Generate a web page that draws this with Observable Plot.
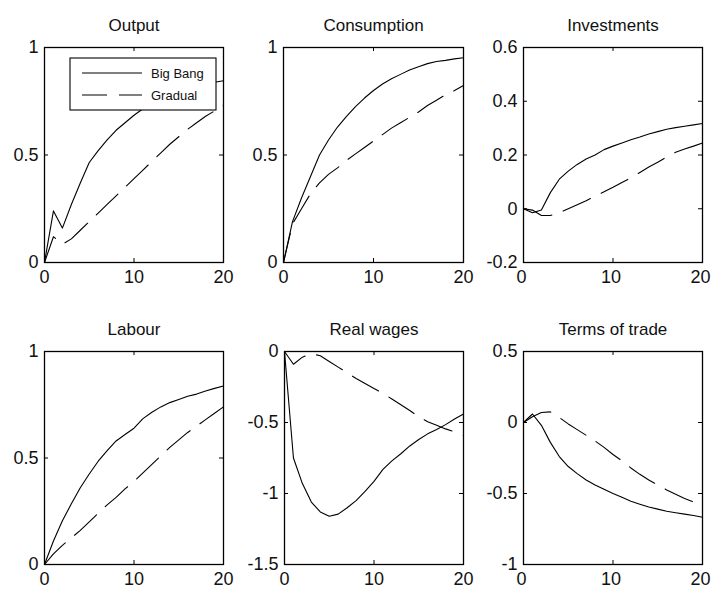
<!DOCTYPE html>
<html><head><meta charset="utf-8">
<script src="https://cdn.jsdelivr.net/npm/d3@7"></script>
<script src="https://cdn.jsdelivr.net/npm/@observablehq/plot@0.6"></script>
<style>
html,body{margin:0;padding:0;background:#fff;}
#chart{position:relative;width:711px;height:589px;overflow:hidden;background:#fff;}
#chart svg{position:absolute;}
</style></head><body><div id="chart"></div>
<script>
// ---- data ----
const periods = [0,1,2,3,4,5,6,7,8,9,10,11,12,13,14,15,16,17,18,19,20];
const seriesNames = ["Big Bang", "Gradual"];
const panelTitles = ["Output", "Consumption", "Investments", "Labour", "Real wages", "Terms of trade"];
const xTicks = [0, 10, 20];

const outputBigBang = [0,0.24,0.16,0.27,0.37,0.465,0.52,0.57,0.615,0.65,0.685,0.715,0.74,0.76,0.78,0.795,0.81,0.82,0.83,0.838,0.845];
const outputGradual = [0,0.12,0.085,0.11,0.15,0.19,0.23,0.27,0.31,0.35,0.39,0.43,0.47,0.51,0.55,0.585,0.62,0.65,0.68,0.705,0.73];
const consumptionBigBang = [0,0.19,0.30,0.40,0.50,0.57,0.63,0.68,0.725,0.765,0.80,0.83,0.855,0.875,0.895,0.91,0.925,0.935,0.94,0.947,0.952];
const consumptionGradual = [0,0.18,0.25,0.32,0.37,0.41,0.44,0.475,0.505,0.535,0.565,0.595,0.625,0.65,0.675,0.70,0.73,0.755,0.78,0.80,0.823];
const investmentsBigBang = [0,-0.015,-0.005,0.06,0.11,0.14,0.165,0.185,0.20,0.22,0.233,0.245,0.257,0.267,0.278,0.287,0.296,0.302,0.307,0.312,0.317];
const investmentsGradual = [0,-0.005,-0.025,-0.025,-0.015,0.0,0.015,0.03,0.047,0.063,0.08,0.098,0.115,0.135,0.155,0.173,0.193,0.21,0.222,0.233,0.245];
const labourBigBang = [0,0.11,0.205,0.285,0.36,0.425,0.485,0.535,0.58,0.61,0.64,0.685,0.715,0.74,0.76,0.775,0.79,0.80,0.815,0.827,0.838];
const labourGradual = [0,0.05,0.09,0.125,0.16,0.2,0.24,0.28,0.315,0.355,0.39,0.43,0.47,0.51,0.55,0.585,0.62,0.65,0.68,0.71,0.74];
const realWagesBigBang = [0,-0.75,-0.93,-1.06,-1.13,-1.16,-1.145,-1.1,-1.05,-0.985,-0.915,-0.83,-0.77,-0.72,-0.665,-0.62,-0.58,-0.55,-0.515,-0.475,-0.44];
const realWagesGradual = [0,-0.09,-0.04,-0.015,-0.03,-0.07,-0.11,-0.15,-0.19,-0.225,-0.26,-0.295,-0.335,-0.375,-0.415,-0.46,-0.495,-0.52,-0.545,-0.565,-0.59];
const totBigBang = [0,0.06,-0.02,-0.14,-0.24,-0.31,-0.36,-0.405,-0.44,-0.47,-0.5,-0.527,-0.555,-0.575,-0.595,-0.61,-0.625,-0.635,-0.645,-0.655,-0.667];
const totGradual = [0,0.04,0.07,0.075,0.035,-0.01,-0.05,-0.09,-0.13,-0.175,-0.225,-0.27,-0.32,-0.365,-0.405,-0.44,-0.475,-0.505,-0.535,-0.56,-0.585];

const yTicksUnit = [0, 0.5, 1];
const yTicksInvest = [-0.2, 0, 0.2, 0.4, 0.6];
const yTicksWages = [-1.5, -1, -0.5, 0];
const yTicksTot = [-1, -0.5, 0, 0.5];

// ---- layout ----
const FONT = "'Liberation Sans', Arial, sans-serif";
const INK = "#111";
const DASH = "30,12";

const panels = [
  {title: panelTitles[0], bb: outputBigBang, gr: outputGradual, domain: [0,1], ticks: yTicksUnit, left: 0, top: 0, w: 237, h: 300, ml: 44, mr: 14, mt: 47, mb: 38, xdx: 0, legend: true},
  {title: panelTitles[1], bb: consumptionBigBang, gr: consumptionGradual, domain: [0,1], ticks: yTicksUnit, left: 237, top: 0, w: 237, h: 300, ml: 46, mr: 11, mt: 47, mb: 38, xdx: 0},
  {title: panelTitles[2], bb: investmentsBigBang, gr: investmentsGradual, domain: [-0.2,0.6], ticks: yTicksInvest, left: 474, top: 0, w: 237, h: 300, ml: 49, mr: 9, mt: 47, mb: 38, xdx: -2},
  {title: panelTitles[3], bb: labourBigBang, gr: labourGradual, domain: [0,1], ticks: yTicksUnit, left: 0, top: 300, w: 237, h: 289, ml: 44, mr: 14, mt: 51, mb: 25, xdx: 0},
  {title: panelTitles[4], bb: realWagesBigBang, gr: realWagesGradual, domain: [-1.5,0], ticks: yTicksWages, left: 237, top: 300, w: 237, h: 289, ml: 47, mr: 11, mt: 51, mb: 25, xdx: 0},
  {title: panelTitles[5], bb: totBigBang, gr: totGradual, domain: [-1,0.5], ticks: yTicksTot, left: 474, top: 300, w: 237, h: 289, ml: 49, mr: 9, mt: 51, mb: 25, xdx: -2}
];

const chart = document.getElementById("chart");
const fmt = d => String(d);

for (const p of panels) {
  const fw = p.w - p.ml - p.mr, fh = p.h - p.mt - p.mb;
  const rows = (vals, name) => periods.map((t, i) => ({period: t, value: vals[i], series: name}));
  const tickLen = 4;
  const svg = Plot.plot({
    width: p.w, height: p.h,
    marginLeft: p.ml, marginRight: p.mr, marginTop: p.mt, marginBottom: p.mb,
    style: {fontFamily: FONT, fontSize: "18px", color: INK, background: "transparent", overflow: "visible"},
    x: {domain: [0, 20]},
    y: {domain: p.domain},
    marks: [
      Plot.line(rows(p.bb, seriesNames[0]), {x: "period", y: "value", stroke: "black", strokeWidth: 1.1}),
      Plot.line(rows(p.gr, seriesNames[1]), {x: "period", y: "value", stroke: "black", strokeWidth: 1.1, strokeDasharray: DASH}),
      Plot.axisX(xTicks, {tickSize: 0, tickPadding: 8, tickFormat: fmt, label: null, fontSize: 18, fill: INK, dx: p.xdx}),
      Plot.axisY(p.ticks, {tickSize: 0, tickPadding: 6, tickFormat: fmt, label: null, fontSize: 18, fill: INK}),
      Plot.tickX(xTicks, {x: d => d, stroke: "black", insetTop: fh - tickLen}),
      Plot.tickX(xTicks, {x: d => d, stroke: "black", insetBottom: fh - tickLen}),
      Plot.tickY(p.ticks, {y: d => d, stroke: "black", insetRight: fw - tickLen}),
      Plot.tickY(p.ticks, {y: d => d, stroke: "black", insetLeft: fw - tickLen}),
      Plot.frame({stroke: "black", strokeWidth: 1.3}),
      Plot.text([p.title], {text: d => d, frameAnchor: "top", lineAnchor: "bottom", dy: -17, fontSize: 17, fill: INK})
    ]
  });
  svg.style.left = p.left + "px";
  svg.style.top = p.top + "px";
  chart.appendChild(svg);

  if (p.legend) {
    const g = d3.select(svg).append("g").attr("font-family", FONT).attr("font-size", 13)
      .attr("fill", INK).attr("text-anchor", "start");
    g.append("rect").attr("x", 70).attr("y", 58).attr("width", 146).attr("height", 52)
      .attr("fill", "white").attr("stroke", "black").attr("stroke-width", 1.1);
    const items = [{name: seriesNames[0], dash: null, y: 73}, {name: seriesNames[1], dash: "25,12", y: 95}];
    for (const it of items) {
      const ln = g.append("line").attr("x1", 82).attr("x2", 142).attr("y1", it.y).attr("y2", it.y)
        .attr("stroke", "black").attr("stroke-width", 1.1);
      if (it.dash) ln.attr("stroke-dasharray", it.dash);
      g.append("text").attr("x", 151).attr("y", it.y + 4.5).attr("text-anchor", "start").text(it.name);
    }
  }
}
</script></body></html>
